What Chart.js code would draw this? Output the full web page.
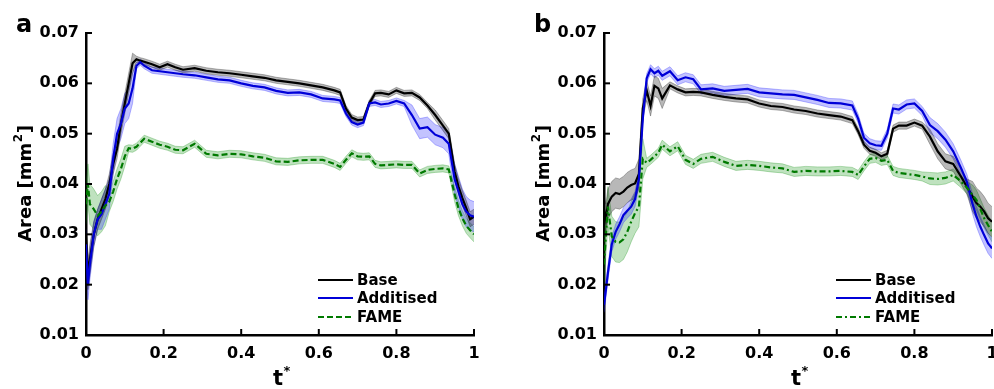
<!DOCTYPE html>
<html>
<head>
<meta charset="utf-8">
<script src="https://cdn.jsdelivr.net/npm/chart.js@4.4.1/dist/chart.umd.min.js"></script>
<style>
  html, body { margin: 0; padding: 0; background: #fff; }
  body { width: 994px; height: 389px; position: relative; overflow: hidden; }
  .panel { position: absolute; top: 0; width: 497px; height: 389px; }
  #pa { left: 0; }
  #pb { left: 497px; }
</style>
</head>
<body>
<div class="panel" id="pa"><canvas id="chartA" width="497" height="389"></canvas></div>
<div class="panel" id="pb"><canvas id="chartB" width="497" height="389"></canvas></div>
<script>
// normalised time t* (shared sampling for all curves)
const tGrid = [0, 0.005, 0.01, 0.02, 0.03, 0.04, 0.05, 0.06, 0.07, 0.08,
  0.09, 0.1, 0.11, 0.12, 0.13, 0.14, 0.15, 0.17, 0.19, 0.21,
  0.23, 0.25, 0.28, 0.31, 0.34, 0.37, 0.40, 0.43, 0.46, 0.49,
  0.52, 0.55, 0.58, 0.61, 0.64, 0.655, 0.67, 0.685, 0.70, 0.715,
  0.73, 0.745, 0.76, 0.78, 0.80, 0.82, 0.84, 0.86, 0.88, 0.90,
  0.92, 0.935, 0.95, 0.96, 0.97, 0.98, 0.99, 1.0];

const seriesNames = ['Base', 'Additised', 'FAME'];
const yTickLabels = ['0.01', '0.02', '0.03', '0.04', '0.05', '0.06', '0.07'];
const xTickLabels = ['0', '0.2', '0.4', '0.6', '0.8', '1'];

// panel a - mean area (mm^2)
const baseA = [0.030, 0.022, 0.025, 0.030, 0.033, 0.035, 0.037, 0.040, 0.044, 0.047,
  0.052, 0.056, 0.060, 0.064, 0.0648, 0.0645, 0.0643, 0.0638, 0.0632, 0.0638,
  0.0632, 0.0627, 0.0630, 0.0625, 0.0622, 0.0620, 0.0617, 0.0614, 0.0611, 0.0606,
  0.0603, 0.0600, 0.0596, 0.0592, 0.0586, 0.0582, 0.0550, 0.0532, 0.0527, 0.0528,
  0.0560, 0.0580, 0.0581, 0.0578, 0.0586, 0.0580, 0.0581, 0.0572, 0.0556, 0.0537,
  0.0516, 0.0500, 0.0425, 0.0395, 0.0372, 0.0352, 0.0330, 0.0335];
const addA = [0.028, 0.020, 0.024, 0.030, 0.033, 0.034, 0.036, 0.038, 0.045, 0.050,
  0.052, 0.055, 0.056, 0.059, 0.0635, 0.0642, 0.0635, 0.0626, 0.0624, 0.0622,
  0.0620, 0.0618, 0.0616, 0.0612, 0.0608, 0.0606, 0.0600, 0.0595, 0.0592, 0.0585,
  0.0581, 0.0582, 0.0578, 0.0570, 0.0568, 0.0566, 0.0540, 0.0523, 0.0518, 0.0522,
  0.0560, 0.0562, 0.0558, 0.0560, 0.0565, 0.0560, 0.0537, 0.0510, 0.0513, 0.0498,
  0.0492, 0.0480, 0.0410, 0.0385, 0.0360, 0.0345, 0.0338, 0.0335];
const fameA = [0.036, 0.040, 0.036, 0.035, 0.0337, 0.0345, 0.0357, 0.0365, 0.0385, 0.041,
  0.043, 0.0455, 0.0471, 0.0470, 0.0474, 0.0482, 0.0490, 0.0484, 0.0478, 0.0474,
  0.0468, 0.0467, 0.0480, 0.0460, 0.0457, 0.0460, 0.0459, 0.0455, 0.0452, 0.0445,
  0.0444, 0.0447, 0.0448, 0.0448, 0.0440, 0.0434, 0.0448, 0.0461, 0.0455, 0.0454,
  0.0455, 0.0440, 0.0437, 0.0438, 0.0439, 0.0438, 0.0438, 0.0421, 0.0428, 0.0430,
  0.0431, 0.0429, 0.0380, 0.0352, 0.0332, 0.0317, 0.0308, 0.0300];

// panel a - half width of shaded band
const sdBaseA = [0.003, 0.003, 0.003, 0.0025, 0.002, 0.002, 0.002, 0.002, 0.002, 0.002,
  0.002, 0.002, 0.002, 0.002, 0.0006, 0.0006, 0.0006, 0.0006, 0.0006, 0.0006,
  0.0006, 0.0006, 0.0006, 0.0006, 0.0006, 0.0006, 0.0006, 0.0006, 0.0006, 0.0006,
  0.0006, 0.0006, 0.0006, 0.0006, 0.0006, 0.0006, 0.0006, 0.0006, 0.0006, 0.0006,
  0.0006, 0.0006, 0.0006, 0.0006, 0.0006, 0.0006, 0.0006, 0.0006, 0.0006, 0.001,
  0.001, 0.001, 0.0015, 0.0015, 0.0015, 0.0015, 0.0015, 0.0015];
const sdAddA = [0.003, 0.003, 0.003, 0.0025, 0.002, 0.003, 0.003, 0.003, 0.003, 0.003,
  0.003, 0.003, 0.003, 0.003, 0.0006, 0.0006, 0.0006, 0.0006, 0.0006, 0.0006,
  0.0006, 0.0006, 0.0006, 0.0006, 0.0006, 0.0006, 0.0006, 0.0006, 0.0006, 0.0006,
  0.0006, 0.0006, 0.0006, 0.0006, 0.0006, 0.0006, 0.0006, 0.0006, 0.0006, 0.0006,
  0.0006, 0.0006, 0.0006, 0.0006, 0.0006, 0.0006, 0.002, 0.002, 0.002, 0.002,
  0.002, 0.002, 0.003, 0.003, 0.003, 0.003, 0.003, 0.003];
const sdFameA = [0.004, 0.004, 0.004, 0.004, 0.004, 0.004, 0.004, 0.002, 0.002, 0.002,
  0.002, 0.002, 0.0007, 0.0007, 0.0007, 0.0007, 0.0007, 0.0007, 0.0007, 0.0007,
  0.0007, 0.0007, 0.0007, 0.0007, 0.0007, 0.0007, 0.0007, 0.0007, 0.0007, 0.0007,
  0.0007, 0.0007, 0.0007, 0.0007, 0.0007, 0.0007, 0.0007, 0.0007, 0.0007, 0.0007,
  0.0007, 0.0007, 0.0007, 0.0007, 0.0007, 0.0007, 0.0007, 0.0007, 0.0007, 0.0007,
  0.0007, 0.0007, 0.0015, 0.0015, 0.0015, 0.0015, 0.0015, 0.0015];

// panel b - mean area (mm^2)
const baseB = [0.035, 0.033, 0.036, 0.0375, 0.0382, 0.0380, 0.0385, 0.0393, 0.0398, 0.0401,
  0.0420, 0.0550, 0.0586, 0.0555, 0.0595, 0.0590, 0.0570, 0.0596, 0.0588, 0.0582,
  0.0583, 0.0582, 0.0577, 0.0573, 0.0570, 0.0568, 0.0560, 0.0555, 0.0553, 0.0548,
  0.0545, 0.0540, 0.0537, 0.0534, 0.0527, 0.0505, 0.0478, 0.0466, 0.0462, 0.0455,
  0.0460, 0.0510, 0.0516, 0.0516, 0.0522, 0.0516, 0.0494, 0.0465, 0.0445, 0.0440,
  0.0415, 0.0395, 0.0375, 0.0362, 0.0355, 0.0345, 0.0332, 0.0325];
const addB = [0.016, 0.019, 0.0223, 0.0280, 0.0305, 0.0320, 0.0338, 0.0347, 0.0355, 0.0370,
  0.0410, 0.0530, 0.0610, 0.0628, 0.0620, 0.0625, 0.0615, 0.0624, 0.0606, 0.0612,
  0.0608, 0.0588, 0.0590, 0.0585, 0.0587, 0.0589, 0.0582, 0.0580, 0.0578, 0.0577,
  0.0572, 0.0567, 0.0561, 0.0560, 0.0556, 0.0530, 0.0492, 0.0481, 0.0477, 0.0476,
  0.0500, 0.0550, 0.0548, 0.0558, 0.0560, 0.0545, 0.0517, 0.0505, 0.0488, 0.0465,
  0.0432, 0.0405, 0.0360, 0.0335, 0.0315, 0.0298, 0.0282, 0.0272];
const fameB = [0.024, 0.030, 0.0355, 0.0296, 0.0285, 0.0284, 0.0290, 0.0305, 0.0325, 0.0342,
  0.0355, 0.0450, 0.0442, 0.0448, 0.0455, 0.0462, 0.0478, 0.0465, 0.0475, 0.0448,
  0.0440, 0.0450, 0.0454, 0.0444, 0.0436, 0.0438, 0.0436, 0.0433, 0.0431, 0.0424,
  0.0426, 0.0425, 0.0425, 0.0426, 0.0424, 0.0418, 0.0435, 0.0450, 0.0452, 0.0446,
  0.0448, 0.0426, 0.0422, 0.0420, 0.0418, 0.0415, 0.0411, 0.0410, 0.0412, 0.0418,
  0.0405, 0.0393, 0.0378, 0.0368, 0.0350, 0.0332, 0.0318, 0.0305];

// panel b - half width of shaded band
const sdBaseB = [0.003, 0.003, 0.003, 0.003, 0.003, 0.003, 0.003, 0.003, 0.003, 0.003,
  0.003, 0.002, 0.002, 0.002, 0.002, 0.002, 0.002, 0.0007, 0.0007, 0.0007,
  0.0007, 0.0007, 0.0007, 0.0007, 0.0007, 0.0007, 0.0007, 0.0007, 0.0007, 0.0007,
  0.0007, 0.0007, 0.0007, 0.0007, 0.0007, 0.0007, 0.0007, 0.0007, 0.0007, 0.0007,
  0.0007, 0.0007, 0.0007, 0.0007, 0.0007, 0.0007, 0.0015, 0.0015, 0.0015, 0.0015,
  0.0015, 0.0015, 0.003, 0.003, 0.003, 0.003, 0.003, 0.003];
const sdAddB = [0.0015, 0.0015, 0.0015, 0.0015, 0.0015, 0.0015, 0.0015, 0.0015, 0.0015, 0.0015,
  0.0015, 0.0009, 0.0009, 0.0009, 0.0009, 0.0009, 0.0009, 0.0009, 0.0009, 0.0009,
  0.0009, 0.0009, 0.0009, 0.0009, 0.0009, 0.0009, 0.0009, 0.0009, 0.0009, 0.0009,
  0.0009, 0.0009, 0.0009, 0.0009, 0.0009, 0.0009, 0.0009, 0.0009, 0.0009, 0.0009,
  0.0009, 0.0009, 0.0009, 0.0009, 0.0009, 0.0009, 0.0015, 0.0015, 0.0015, 0.0015,
  0.0015, 0.0015, 0.002, 0.002, 0.002, 0.002, 0.002, 0.002];
const sdFameB = [0.004, 0.004, 0.004, 0.004, 0.004, 0.004, 0.004, 0.004, 0.004, 0.004,
  0.004, 0.004, 0.0009, 0.0009, 0.0009, 0.0009, 0.0009, 0.0009, 0.0009, 0.0009,
  0.0009, 0.0009, 0.0009, 0.0009, 0.0009, 0.0009, 0.0009, 0.0009, 0.0009, 0.0009,
  0.0009, 0.0009, 0.0009, 0.0009, 0.0009, 0.0009, 0.0009, 0.0009, 0.0009, 0.0009,
  0.0009, 0.0009, 0.0009, 0.0009, 0.0009, 0.0009, 0.0012, 0.0012, 0.0012, 0.0012,
  0.0012, 0.0012, 0.002, 0.002, 0.002, 0.002, 0.002, 0.002];

const colors = {
  base: { line: '#000000', band: 'rgba(0,0,0,0.28)', edge: 'rgba(0,0,0,0.35)' },
  add: { line: '#0000d8', band: 'rgba(40,40,255,0.28)', edge: 'rgba(40,40,255,0.4)' },
  fame: { line: '#007a00', band: 'rgba(0,140,0,0.25)', edge: 'rgba(0,140,0,0.35)' }
};

Chart.defaults.font.family = "'DejaVu Sans', sans-serif";
Chart.defaults.font.weight = 'bold';
Chart.defaults.color = '#000';

function bandSets(mean, sd, c) {
  const upper = {
    data: tGrid.map((t, i) => ({ x: t, y: mean[i] + sd[i] })),
    borderColor: c.edge, borderWidth: 0.8, pointRadius: 0, fill: false, order: 10
  };
  const lower = {
    data: tGrid.map((t, i) => ({ x: t, y: mean[i] - sd[i] })),
    borderColor: c.edge, borderWidth: 0.8, pointRadius: 0, fill: '-1',
    backgroundColor: c.band, order: 10
  };
  return [upper, lower];
}

function lineSet(name, mean, c, dash, order) {
  return {
    label: name,
    data: tGrid.map((t, i) => ({ x: t, y: mean[i] })),
    borderColor: c.line, borderWidth: 2.2, borderDash: dash,
    pointRadius: 0, fill: false, order: order, isMain: true
  };
}

// ticks pointing inward, axis titles, panel letter and legend
const decorPlugin = {
  id: 'decor',
  afterDraw(chart, args, opts) {
    const { ctx, chartArea: a, scales } = chart;
    ctx.save();
    ctx.strokeStyle = '#000';
    ctx.lineWidth = 2;
    scales.x.ticks.forEach(tk => {
      const px = scales.x.getPixelForValue(tk.value);
      ctx.beginPath(); ctx.moveTo(px, a.bottom); ctx.lineTo(px, a.bottom - 6); ctx.stroke();
    });
    scales.y.ticks.forEach(tk => {
      const py = scales.y.getPixelForValue(tk.value);
      ctx.beginPath(); ctx.moveTo(a.left, py); ctx.lineTo(a.left + 6, py); ctx.stroke();
    });

    ctx.fillStyle = '#000';
    // y title with superscript
    ctx.save();
    ctx.translate(a.left - 61, (a.top + a.bottom) / 2);
    ctx.rotate(-Math.PI / 2);
    ctx.font = "bold 18px 'DejaVu Sans'";
    const p1 = 'Area [mm', p3 = ']';
    ctx.textBaseline = 'middle';
    const w1 = ctx.measureText(p1).width, w3 = ctx.measureText(p3).width;
    ctx.font = "bold 12px 'DejaVu Sans'";
    const w2 = ctx.measureText('2').width;
    let x0 = -(w1 + w2 + w3) / 2;
    ctx.font = "bold 18px 'DejaVu Sans'";
    ctx.textAlign = 'left';
    ctx.fillText(p1, x0, 1);
    ctx.font = "bold 12px 'DejaVu Sans'";
    ctx.fillText('2', x0 + w1 + 0.5, -6);
    ctx.font = "bold 18px 'DejaVu Sans'";
    ctx.fillText(p3, x0 + w1 + w2 + 1, 1);
    ctx.restore();

    // x title t*
    ctx.font = "bold 21px 'DejaVu Sans'";
    ctx.textAlign = 'center';
    ctx.textBaseline = 'alphabetic';
    const cx = (a.left + a.right) / 2;
    ctx.fillText('t', cx - 2, 385);
    ctx.font = "bold 13px 'DejaVu Sans'";
    ctx.fillText('*', cx + 7, 375);

    // panel letter
    ctx.font = "bold 24px 'DejaVu Sans'";
    ctx.textAlign = 'left';
    ctx.fillText(opts.letter, a.left - 70, 32);

    // legend
    const items = chart.data.datasets.filter(d => d.isMain)
      .sort((p, q) => seriesNames.indexOf(p.label) - seriesNames.indexOf(q.label));
    const offs = [55, 37, 18];
    items.forEach((d, i) => {
      const y = a.bottom - offs[i];
      ctx.strokeStyle = d.borderColor;
      ctx.lineWidth = 2.2;
      ctx.setLineDash(d.borderDash || []);
      ctx.beginPath(); ctx.moveTo(a.left + 232, y); ctx.lineTo(a.left + 267, y); ctx.stroke();
      ctx.setLineDash([]);
      ctx.font = "bold 15px 'DejaVu Sans'";
      ctx.fillStyle = '#000';
      ctx.textBaseline = 'middle';
      ctx.fillText(d.label, a.left + 271, y + 1);
    });
    ctx.restore();
  }
};

function makePanel(id, base, add, fame, sdBase, sdAdd, sdFame, fameDash, letter, axisLeft, padRight) {
  const datasets = [
    lineSet('FAME', fame, colors.fame, fameDash, 0),
    lineSet('Additised', add, colors.add, [], 1),
    lineSet('Base', base, colors.base, [], 2),
    ...bandSets(base, sdBase, colors.base),
    ...bandSets(add, sdAdd, colors.add),
    ...bandSets(fame, sdFame, colors.fame)
  ];
  return new Chart(document.getElementById(id), {
    type: 'line',
    data: { datasets },
    plugins: [decorPlugin],
    options: {
      responsive: false,
      animation: false,
      devicePixelRatio: 1,
      layout: { padding: { top: 33, right: padRight, bottom: 0, left: 0 } },
      plugins: {
        legend: { display: false },
        tooltip: { enabled: false },
        decor: { letter }
      },
      scales: {
        x: {
          type: 'linear', min: 0, max: 1,
          grid: { display: false, drawTicks: false },
          border: { display: true, color: '#000', width: 2.5 },
          ticks: {
            stepSize: 0.2, padding: 9, maxRotation: 0, autoSkip: false,
            font: { size: 16, weight: 'bold' },
            callback: (v, i) => xTickLabels[i]
          },
          afterFit: s => { s.height = 54; s.paddingLeft = 0; s.paddingRight = 0; }
        },
        y: {
          min: 0.01, max: 0.07,
          grid: { display: false, drawTicks: false },
          border: { display: true, color: '#000', width: 2.5 },
          ticks: {
            stepSize: 0.01, padding: 7,
            font: { size: 16, weight: 'bold' },
            callback: (v, i) => yTickLabels[i]
          },
          afterFit: s => { s.width = axisLeft; s.paddingTop = 0; s.paddingBottom = 0; }
        }
      }
    }
  });
}

makePanel('chartA', baseA, addA, fameA, sdBaseA, sdAddA, sdFameA, [6, 3], 'a', 86, 23);
makePanel('chartB', baseB, addB, fameB, sdBaseB, sdAddB, sdFameB, [6, 3, 2, 3], 'b', 107, 2);
</script>
</body>
</html>
